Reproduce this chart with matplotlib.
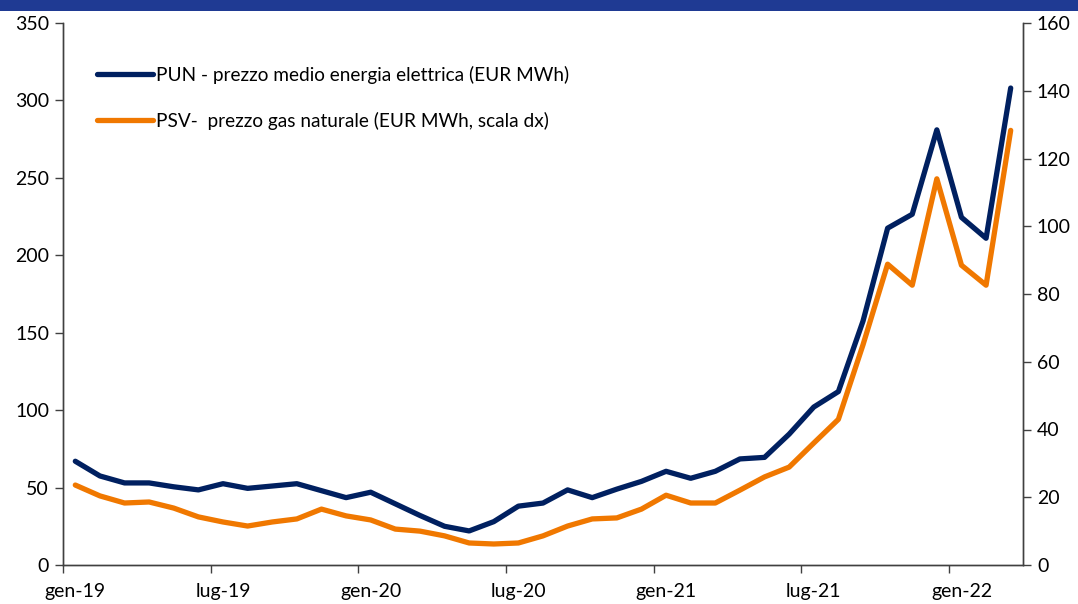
import matplotlib.pyplot as plt
import matplotlib.patches as mpatches

PUN_COLOR = '#002060'
PSV_COLOR = '#F07800'
BANNER_COLOR = '#1F3A93'

# monthly data, gen-19 .. mar-22
months = ['gen-19', 'feb-19', 'mar-19', 'apr-19', 'mag-19', 'giu-19',
          'lug-19', 'ago-19', 'set-19', 'ott-19', 'nov-19', 'dic-19',
          'gen-20', 'feb-20', 'mar-20', 'apr-20', 'mag-20', 'giu-20',
          'lug-20', 'ago-20', 'set-20', 'ott-20', 'nov-20', 'dic-20',
          'gen-21', 'feb-21', 'mar-21', 'apr-21', 'mag-21', 'giu-21',
          'lug-21', 'ago-21', 'set-21', 'ott-21', 'nov-21', 'dic-21',
          'gen-22', 'feb-22', 'mar-22']

pun = [67, 57.5, 53, 53, 50.5, 48.5, 52.5, 49.5, 51, 52.5, 48, 43.5,
       47, 39.5, 32, 25, 22, 28, 38, 40, 48.5, 43.5, 49, 54,
       60.5, 56, 60.5, 68.5, 69.5, 84.5, 102, 112, 157.5, 217.5, 226.5, 281,
       224.5, 211, 308]

psv = [23.6, 20.4, 18.3, 18.6, 16.8, 14.2, 12.7, 11.5, 12.7, 13.6, 16.5, 14.5,
       13.3, 10.6, 10.0, 8.6, 6.5, 6.2, 6.5, 8.6, 11.5, 13.6, 13.9, 16.5,
       20.6, 18.3, 18.3, 22.1, 26.0, 28.9, 36.0, 43.0, 65.0, 88.8, 82.6, 114.0,
       88.5, 82.6, 128.3]

pun_label = 'PUN - prezzo medio energia elettrica (EUR MWh)'
psv_label = 'PSV-  prezzo gas naturale (EUR MWh, scala dx)'

plt.rcParams['font.family'] = ['Lato', 'DejaVu Sans']

fig = plt.figure(figsize=(10.78, 6.04), dpi=100)
fig.patch.set_facecolor('white')

# blue banner at the very top (title cut off)
fig.patches.append(mpatches.Rectangle((0, 1 - 11 / 604), 1, 11 / 604,
                                      transform=fig.transFigure,
                                      facecolor=BANNER_COLOR, edgecolor='none'))

ax = fig.add_axes([63 / 1078, 39 / 604, 960 / 1078, 542 / 604])
ax2 = ax.twinx()

x = list(range(len(months)))
l1, = ax.plot(x, pun, color=PUN_COLOR, linewidth=3.8,
              solid_capstyle='round', solid_joinstyle='round', label=pun_label)
l2, = ax2.plot(x, psv, color=PSV_COLOR, linewidth=3.8,
               solid_capstyle='round', solid_joinstyle='round', label=psv_label)

ax.set_xlim(-0.5, len(months) - 0.5)
ax.set_ylim(0, 350)
ax2.set_ylim(0, 160)
ax.set_yticks(range(0, 351, 50))
ax2.set_yticks(range(0, 161, 20))

# ticks at category boundaries, labels at category centres
ax.set_xticks([i - 0.5 for i in range(0, len(months), 6)])
ax.set_xticklabels([])
ax.set_xticks(x[::6], minor=True)
ax.set_xticklabels(months[::6], minor=True)
ax.tick_params(axis='x', which='major', length=6, width=1, color='#404040',
               direction='out')
ax.tick_params(axis='x', which='minor', length=0, labelsize=14, pad=13,
               labelcolor='black')
ax.tick_params(axis='y', length=6, width=1, color='#404040', labelsize=14,
               pad=4)
ax2.tick_params(axis='y', length=6, width=1, color='#404040', labelsize=14,
                pad=4)

for a in (ax, ax2):
    a.spines['top'].set_visible(False)
    for s in ('left', 'right', 'bottom'):
        a.spines[s].set_color('#404040')
        a.spines[s].set_linewidth(1)

ax.legend(handles=[l1, l2], loc='upper left', bbox_to_anchor=(0.028, 0.935),
          frameon=False, fontsize=13.7, handlelength=2.9, handletextpad=0.15,
          labelspacing=1.45, borderaxespad=0)

fig.savefig('out.png', dpi=100, facecolor='white')
